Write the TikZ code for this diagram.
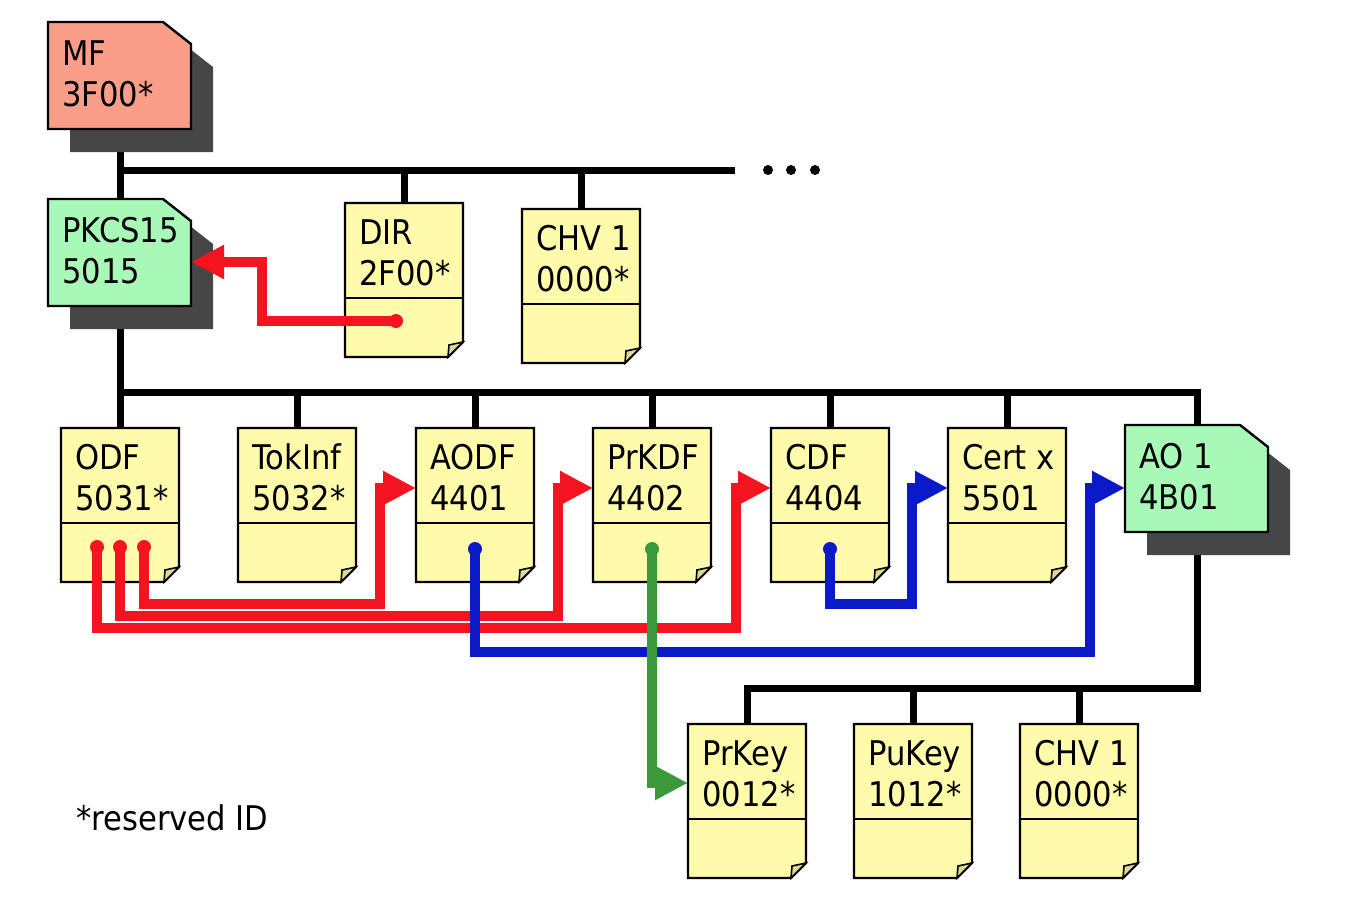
\documentclass[tikz,border=0pt]{standalone}
\usepackage{fontspec}
\setmainfont{DejaVu Sans}[FakeStretch=0.9]
\usetikzlibrary{arrows.meta}
\definecolor{docyellow}{RGB}{255,251,170}
\definecolor{flapcol}{RGB}{220,216,150}
\definecolor{dfgreen}{RGB}{168,248,184}
\definecolor{mfsalmon}{RGB}{250,158,138}
\definecolor{shadowgray}{RGB}{70,70,70}
\definecolor{arrred}{RGB}{244,20,32}
\definecolor{arrblue}{RGB}{10,26,200}
\definecolor{arrgreen}{RGB}{58,154,58}
\tikzset{
  boxnode/.style={draw=none,inner sep=0pt,outer sep=0pt,anchor=north west},
  outline/.style={draw=black,line width=2.4pt,line join=miter},
  txt/.style={inner sep=0pt,anchor=base west,font=\fontsize{34pt}{40pt}\selectfont},
  bus/.style={draw=black,line width=7pt,line join=miter},
  link/.style={line width=10pt,line join=miter,-{Triangle[length=33pt,width=32pt]}},
  redlink/.style={link,draw=arrred},
  bluelink/.style={link,draw=arrblue},
  greenlink/.style={link,draw=arrgreen},
}
% elementary file: name, x, y, line1, line2
\newcommand\docfile[5]{%
  \node[boxnode,minimum width=118pt,minimum height=154pt] (#1) at (#2,#3) {};
  \filldraw[outline,fill=docyellow] (#2,#3) -- ++(118,0) -- ++(0,139) -- ++(-15,15) -- ++(-103,0) -- cycle;
  \filldraw[outline,line width=1.6pt,fill=flapcol] ({#2+118},{#3+139}) -- ({#2+104},{#3+142}) -- ({#2+103},{#3+154}) -- cycle;
  \draw[outline] (#2,{#3+95}) -- ++(118,0);
  \node[txt] (#1-a) at ({#2+14},{#3+41}) {#4};
  \node[txt] (#1-b) at ({#2+14},{#3+82}) {#5};
}
% dedicated file: name, x, y, colour, line1, line2
\newcommand\dedfile[6]{%
  \fill[shadowgray] ({#2+22},{#3+23}) -- ++(115,0) -- ++(28,22) -- ++(0,85) -- ++(-143,0) -- cycle;
  \node[boxnode,minimum width=143pt,minimum height=107pt] (#1) at (#2,#3) {};
  \filldraw[outline,fill=#4] (#2,#3) -- ++(115,0) -- ++(28,22) -- ++(0,85) -- ++(-143,0) -- cycle;
  \node[txt] (#1-a) at ({#2+14},{#3+43}) {#5};
  \node[txt] (#1-b) at ({#2+14},{#3+84}) {#6};
}
\begin{document}
\begin{tikzpicture}[x=1pt,y=-1pt]
\useasboundingbox (0,0) rectangle (1346,908);
% bus coordinates
\coordinate (busA) at (120,170);
\coordinate (busAend) at (735,170);
\coordinate (busB) at (120,392);
\coordinate (busC) at (1197,688);
% --- black tree connectors (drawn first, shadows cover them)
\draw[bus] (120,128) -- (120,200);
\draw[bus] (busA) -- (busAend);
\draw[bus] (404,170) -- (404,204);
\draw[bus] (581,170) -- (581,210);
\draw[bus] (120,306) -- (busB) -- (1197,392) -- (1197,426);
\foreach \x in {120,297,475,652,830,1007}{\draw[bus] (\x,392) -- (\x,429);}
\draw[bus] (1197,531) -- (busC) -- (747,688) -- (747,724);
\draw[bus] (913,688) -- (913,724);
\draw[bus] (1079,688) -- (1079,724);
% dots
\foreach \x/\n in {768/d1,791/d2,815/d3}{\fill (\x,170) circle (5pt) coordinate (\n);}
% --- files
\dedfile{mf}{48}{22}{mfsalmon}{MF}{3F00*}
\dedfile{pkcs}{48}{199}{dfgreen}{PKCS15}{5015}
\docfile{dir}{345}{203}{DIR}{2F00*}
\docfile{chv}{522}{209}{CHV 1}{0000*}
\docfile{odf}{61}{428}{ODF}{5031*}
\docfile{tokinf}{238}{428}{TokInf}{5032*}
\docfile{aodf}{416}{428}{AODF}{4401}
\docfile{prkdf}{593}{428}{PrKDF}{4402}
\docfile{cdf}{771}{428}{CDF}{4404}
\docfile{certx}{948}{428}{Cert x}{5501}
\dedfile{ao}{1125}{425}{dfgreen}{AO 1}{4B01}
\docfile{prkey}{688}{724}{PrKey}{0012*}
\docfile{pukey}{854}{724}{PuKey}{1012*}
\docfile{chvb}{1020}{724}{CHV 1}{0000*}
\node[txt] (note) at (76,830) {*reserved ID};
% --- coloured references
\coordinate (s0) at (396,321);
\coordinate (s1) at (144,547);
\coordinate (s2) at (120,547);
\coordinate (s3) at (97,547);
\coordinate (s4) at (475,549);
\coordinate (s5) at (830,549);
\coordinate (s6) at (652,549);
\coordinate (rowy) at (0,488);
\draw[redlink] (s0) -- (262,321) -- (262,262) -- (pkcs.east |- 0,262);
\draw[redlink] (s1) -- (144,604) -- (380,604) -- (380,488) -- (aodf.west |- rowy);
\draw[redlink] (s2) -- (120,616) -- (558,616) -- (558,488) -- (prkdf.west |- rowy);
\draw[redlink] (s3) -- (97,628) -- (736,628) -- (736,488) -- (cdf.west |- rowy);
\draw[bluelink] (s4) -- (475,652) -- (1090,652) -- (1090,488) -- (ao.west |- rowy);
\draw[bluelink] (s5) -- (830,604) -- (912,604) -- (912,488) -- (certx.west |- rowy);
\draw[greenlink] (s6) -- (652,783) -- (prkey.west |- 0,783);
\fill[arrred] (s0) circle (7pt) (s1) circle (7pt) (s2) circle (7pt) (s3) circle (7pt);
\fill[arrblue] (s4) circle (7pt) (s5) circle (7pt);
\fill[arrgreen] (s6) circle (7pt);
\end{tikzpicture}
\end{document}
